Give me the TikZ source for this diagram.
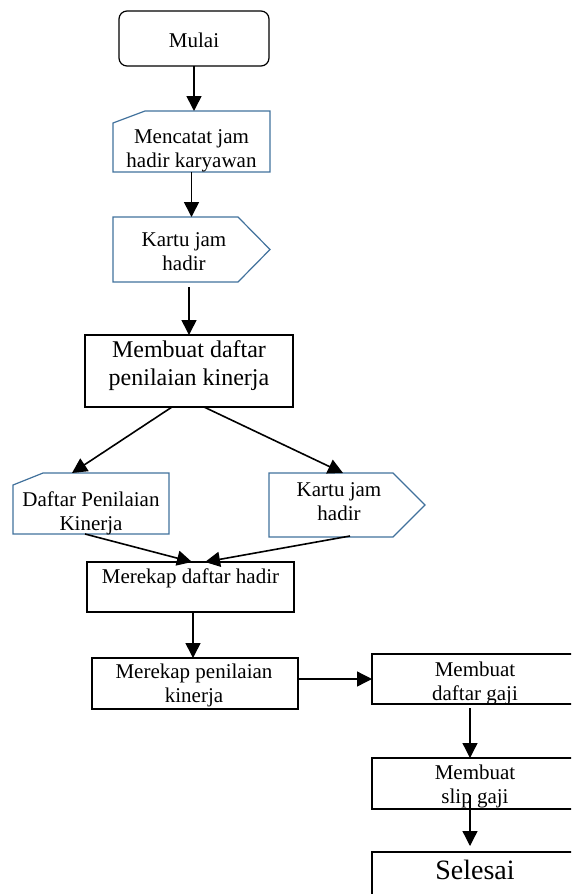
\documentclass[tikz,border=0pt]{standalone}
\usepackage{fontspec}
\setmainfont{Liberation Serif}
\usetikzlibrary{arrows.meta,calc}
\definecolor{bordblue}{HTML}{41719C}
\tikzset{
  txt/.style={font=\fontsize{21}{24}\selectfont, align=center, inner sep=0pt},
  bigtxt/.style={font=\fontsize{24}{28}\selectfont, align=center, inner sep=0pt},
  hugetxt/.style={font=\fontsize{28}{32}\selectfont, align=center, inner sep=0pt},
  blkbox/.style={draw=black, line width=1.2pt, inner sep=0pt, outer sep=0pt},
  ghost/.style={inner sep=0pt, outer sep=0pt},
  blueline/.style={draw=bordblue, line width=1.2pt, line join=miter},
  arr/.style={draw=black, line width=1.6pt, -{Triangle[width=15pt,length=15pt]}},
  arrthin/.style={draw=black, line width=1.3pt, -{Triangle[width=15pt,length=15pt]}}
}
\begin{document}
\begin{tikzpicture}[x=1pt,y=-1pt]
\useasboundingbox (0,0) rectangle (571,894);
\clip (0,0) rectangle (571,894);

% Mulai
\node[blkbox, rounded corners=8pt, minimum width=150pt, minimum height=55pt] (mulai) at (194,38.5) {};
\node[txt] (mulaiT) at (194,40) {Mulai};

% Mencatat jam hadir karyawan (manual input / card)
\node[ghost, minimum width=157pt, minimum height=61pt] (mencatat) at (191.5,141.5) {};
\draw[blueline] ($(mencatat.north west)+(0,12)$) -- ($(mencatat.north west)+(32,0)$) -- (mencatat.north east) -- (mencatat.south east) -- (mencatat.south west) -- cycle;
\node[txt] (mencatatT) at (191.5,151) {Mencatat jam\\hadir karyawan};

% Kartu jam hadir (off-page)
\node[ghost, minimum width=157pt, minimum height=65pt] (kartu1) at (191.5,249.5) {};
\draw[blueline] (kartu1.north west) -- ($(kartu1.north east)+(-32,0)$) -- (kartu1.east) -- ($(kartu1.south east)+(-32,0)$) -- (kartu1.south west) -- cycle;
\node[txt] (kartu1T) at (184,251.5) {Kartu jam\\hadir};

% Membuat daftar penilaian kinerja
\node[blkbox, minimum width=208pt, minimum height=72pt] (membuat) at (189,371) {};
\node[bigtxt] (membuatT) at (189,366) {Membuat daftar\\penilaian kinerja};

% Daftar Penilaian Kinerja (card)
\node[ghost, minimum width=156pt, minimum height=61pt] (daftar) at (91,503.5) {};
\draw[blueline] ($(daftar.north west)+(0,12)$) -- ($(daftar.north west)+(30,0)$) -- (daftar.north east) -- (daftar.south east) -- (daftar.south west) -- cycle;
\node[txt] (daftarT) at (91,513) {Daftar Penilaian\\Kinerja};

% Kartu jam hadir 2 (off-page)
\node[ghost, minimum width=156pt, minimum height=64pt] (kartu2) at (347,505) {};
\draw[blueline] (kartu2.north west) -- ($(kartu2.north east)+(-32,0)$) -- (kartu2.east) -- ($(kartu2.south east)+(-32,0)$) -- (kartu2.south west) -- cycle;
\node[txt] (kartu2T) at (339,501.5) {Kartu jam\\hadir};

% Merekap daftar hadir
\node[blkbox, minimum width=207pt, minimum height=50pt] (merekap1) at (190.5,587) {};
\node[txt] (merekap1T) at (190.5,578) {Merekap daftar hadir};

% Merekap penilaian kinerja
\node[blkbox, minimum width=206pt, minimum height=51pt] (merekap2) at (195,683.5) {};
\node[txt] (merekap2T) at (194,685) {Merekap penilaian\\kinerja};

% Membuat daftar gaji
\node[blkbox, minimum width=212pt, minimum height=50pt] (gaji) at (478,679) {};
\node[txt] (gajiT) at (475,683) {Membuat\\daftar gaji};

% Membuat slip gaji
\node[blkbox, minimum width=212pt, minimum height=51pt] (slip) at (478,783.5) {};
\node[txt] (slipT) at (475,786) {Membuat\\slip gaji};

% Selesai
\node[blkbox, minimum width=212pt, minimum height=88pt] (selesai) at (478,896) {};
\node[hugetxt] (selesaiT) at (475,869.5) {Selesai};

% Connector end points
\coordinate (m1out) at ($(merekap1.south)+(2.5,0)$);
\coordinate (m2in) at (m1out |- merekap2.north);

% Connectors
\draw[arr] (mulai.south) -- (mulai.south |- mencatat.north);
\draw[arr] (mencatat.south) -- (kartu1.north);
\draw[arr, shorten <=5pt] (membuat.north |- kartu1.south) -- (membuat.north);
\draw[arr] ($(membuat.south)+(-17,0)$) -- ($(daftar.north west)+(59,0)$);
\draw[arr] ($(membuat.south)+(15,0)$) -- ($(kartu2.north west)+(74,0)$);
\draw[arr] ($(daftar.south)+(-6,0)$) -- ($(merekap1.north)+(1.5,0)$);
\draw[arr] ($(kartu2.south)+(3,-1)$) -- ($(merekap1.north)+(14.5,0)$);
\draw[arr] (m1out) -- (m2in);
\draw[arrthin] (merekap2.east |- gaji.west) -- (gaji.west);
\draw[arrthin, shorten <=4pt] ($(gaji.south)+(-8,0)$) -- ($(slip.north)+(-8,0)$);
\draw[arrthin] ($(slip.south)+(-8,-14)$) -- ($(selesai.north)+(-8,-6)$);
\end{tikzpicture}
\end{document}
